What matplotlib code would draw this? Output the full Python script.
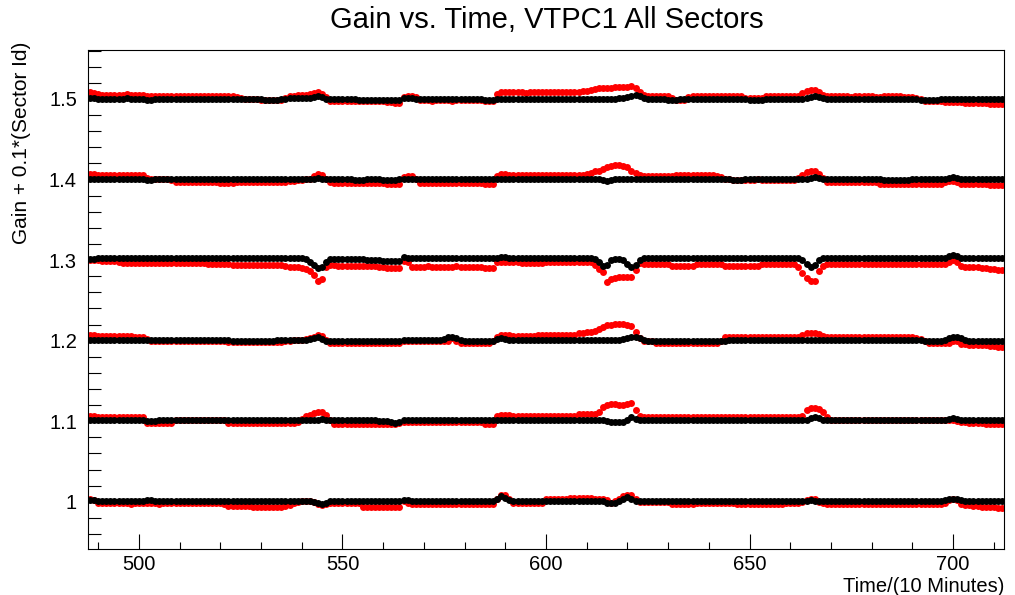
import numpy as np
import matplotlib
matplotlib.use("Agg")
import matplotlib.pyplot as plt
from matplotlib.ticker import MultipleLocator, FuncFormatter

plt.rcParams["font.family"] = ["Liberation Sans", "DejaVu Sans"]

# time axis, one point per 10 minutes
time = np.arange(488, 713)
offsets = [1.0, 1.1, 1.2, 1.3, 1.4, 1.5]

# deviations from 1 + 0.1*sector, in units of 0.001
red_15 = [8, 7, 6, 5, 5, 5, 5, 5, 5, 6, 5, 5, 5, 5, 4, 4, 4, 4, 4, 4, 4, 4, 4, 4, 4,
          4, 4, 4, 4, 4, 4, 4, 4, 4, 4, 4, 2, 1, 0, 0, 0, 0, -1, -1, -1, -1, -1, -1, 1, 3,
          4, 5, 5, 5, 6, 7, 8, 6, 2, -2, -3, -3, -3, -3, -3, -3, -3, -3, -3, -3, -3, -3, -3, -4, -4,
          -5, -5, 2, 3, 3, 2, -1, -1, -1, -2, -1, -1, -1, -1, -2, -1, -1, -1, -1, -1, -1, -1, -2, -3, -3,
          6, 8, 8, 8, 8, 8, 8, 7, 8, 8, 8, 8, 8, 8, 8, 9, 9, 9, 9, 9, 9, 10, 10, 11, 12,
          13, 14, 14, 14, 15, 15, 15, 15, 16, 13, 8, 5, 4, 4, 4, 4, 4, 4, 1, -1, -1, -1, 2, 3, 3,
          3, 3, 3, 3, 3, 3, 3, 3, 3, 3, 3, 1, 1, 1, 1, 1, 3, 3, 3, 3, 3, 3, 3, 3, 4,
          7, 10, 11, 11, 8, 5, 3, 3, 3, 3, 3, 3, 2, 3, 3, 3, 3, 3, 2, 2, 3, 3, 3, 3, 3,
          2, 2, 2, 1, 0, -2, -3, -3, -3, -3, -4, -4, -4, -4, -4, -5, -5, -5, -5, -5, -5, -6, -6, -6, -6]
black_15 = [1, 1, 0, 0, 0, 0, 0, 0, 0, 1, 0, 0, 0, 0, -1, -1, 0, 0, 0, 0, 0, 0, 0, 0, 0,
            0, 0, 0, 0, 0, 0, 0, 0, 0, 0, 0, 0, 0, 0, 0, 0, 0, 0, -1, -1, -1, -1, 0, 0, 1,
            1, 1, 1, 1, 1, 2, 3, 2, 0, 0, 0, 0, 0, 0, 0, 0, -1, -1, -1, -1, -1, -1, -1, -1, -1,
            -1, -1, 1, 1, 1, 0, 0, 0, 0, 0, 0, 0, 0, 0, 0, 0, 0, 0, 0, 0, 0, 0, -1, -1, -1,
            0, 0, 0, 0, 0, 0, 0, 0, 0, 0, 0, 0, 0, 0, 0, 0, 0, 0, 0, 0, 0, 0, 0, 0, 0,
            0, 0, 0, 0, 0, 1, 1, 2, 3, 5, 3, 1, 0, 0, 0, 0, 0, -1, -1, -1, 0, 0, 0, 0, 0,
            0, 0, 0, 0, 0, 0, 0, 0, 0, 0, 0, 0, -1, -1, -1, -1, 0, 0, 0, 0, 0, 0, 0, 0, 0,
            0, 1, 2, 3, 2, 1, 0, 0, 0, 0, 0, 0, 0, 0, 0, 0, 0, 0, 0, 0, 0, 0, 0, 0, 0,
            0, 0, 0, 0, -1, -1, -1, -1, -1, 0, 0, 0, 0, 0, 0, 0, 0, 0, 0, 0, 0, 0, 0, 0, 0]

red_14 = [7, 7, 6, 5, 5, 5, 5, 5, 6, 5, 5, 5, 5, 5, 2, 0, 0, 0, 0, 0, -1, -3, -3, -3, -3,
          -3, -3, -3, -3, -3, -3, -3, -4, -4, -4, -4, -3, -3, -3, -3, -3, -3, -3, -3, -3, -3, -3, -3, -3, -2,
          -2, -1, -1, 0, 1, 4, 7, 5, 0, -3, -4, -4, -4, -4, -4, -4, -4, -4, -4, -4, -4, -4, -4, -5, -5,
          -5, -5, 3, 4, 4, 1, -4, -4, -4, -4, -4, -4, -4, -4, -4, -4, -4, -4, -4, -4, -4, -4, -5, -5, -5,
          4, 7, 7, 5, 5, 5, 5, 5, 5, 5, 5, 5, 5, 5, 5, 5, 5, 5, 5, 5, 6, 6, 7, 8, 10,
          11, 13, 15, 17, 18, 18, 17, 15, 11, 8, 6, 4, 4, 4, 4, 4, 4, 4, 4, 5, 6, 6, 6, 6, 6,
          6, 6, 6, 5, 4, 3, 1, 0, -1, -1, -1, -1, -1, -1, 0, -1, -1, -1, -1, -1, -1, -1, -1, -1, 2,
          5, 9, 10, 10, 7, 2, -3, -3, -3, -3, -3, -3, -3, -3, -3, -3, -3, -3, -3, -5, -5, -5, -5, -5, -5,
          -5, -5, -5, -5, -5, -5, -5, -5, -5, -5, -3, -2, -2, -3, -5, -6, -6, -6, -6, -6, -6, -7, -7, -7, -7]
black_14 = [1, 1, 1, 0, 0, 0, 0, 0, 0, 0, 0, 0, 0, 0, -1, -1, 0, 0, 0, 0, 0, 0, 0, 0, 0,
            0, 0, 0, 0, 0, 0, 0, 0, 0, 0, 0, 0, 0, 0, 0, 0, 0, 0, 0, 0, 0, 0, 0, 0, 0,
            0, 0, 0, 0, 0, 1, 2, 1, 0, 0, 0, 0, 0, 0, 0, -1, -1, -1, 0, 0, 0, 0, -1, -1, -1,
            -1, 0, 1, 1, 0, 0, 0, 0, 0, 0, 0, 0, 0, 0, 0, 0, 0, 0, 0, 0, 0, 0, 0, 0, 0,
            0, 1, 1, 0, 0, 0, 0, 0, 0, 0, 0, 0, 0, 0, 0, 0, 0, 0, 0, 0, 0, 0, 0, 0, 0,
            0, -1, -2, -1, 0, 0, 0, 1, 1, 1, 0, 0, 0, 0, 0, 0, 0, 0, 0, 0, 0, 0, 0, 0, 0,
            0, 0, 0, 0, 0, 0, 0, 0, -1, -1, -1, 0, 0, 0, 0, 0, 0, 0, 0, 0, 0, 0, 0, 0, 0,
            0, 1, 2, 3, 2, 1, 0, 0, 0, 0, 0, 0, 0, 0, 0, 0, 0, 0, 0, 0, -1, -1, -1, -1, -1,
            -1, -1, 0, 0, 0, 0, 0, 0, 0, 0, 1, 2, 3, 2, 1, 0, 0, 0, 0, 0, 0, 0, 0, 0, 0]

red_13 = [0, 0, 0, -1, -1, -1, -1, -2, -4, -4, -4, -4, -4, -4, -4, -4, -4, -4, -4, -4, -4, -4, -4, -4, -4,
          -4, -4, -4, -4, -5, -5, -5, -5, -5, -5, -6, -6, -6, -6, -6, -6, -6, -6, -6, -6, -6, -6, -6, -7, -8,
          -8, -9, -10, -11, -14, -18, -26, -24, -8, -6, -6, -7, -7, -7, -7, -7, -7, -7, -7, -7, -7, -8, -9, -10, -10,
          -10, -10, -1, -3, -8, -8, -8, -8, -7, -8, -8, -8, -8, -8, -8, -7, -8, -8, -8, -8, -8, -8, -10, -10, -10,
          -3, -3, -3, -3, -3, -3, -4, -4, -4, -4, -4, -4, -2, -2, -2, -2, -2, -2, -2, -2, -2, -2, -2, -3, -6,
          -11, -15, -27, -24, -22, -21, -21, -21, -21, -12, -4, -5, -5, -5, -5, -5, -5, -5, -7, -7, -7, -7, -7, -7, -5,
          -5, -5, -5, -5, -5, -5, -7, -7, -7, -7, -7, -7, -7, -7, -7, -5, -5, -5, -5, -5, -5, -5, -5, -5, -8,
          -16, -22, -26, -26, -14, -7, -5, -5, -5, -5, -5, -5, -5, -5, -5, -5, -5, -5, -5, -5, -5, -5, -5, -5, -5,
          -5, -5, -5, -5, -5, -5, -5, -5, -5, -5, -5, -2, 0, -3, -7, -8, -8, -9, -9, -10, -10, -11, -11, -12, -12]
black_13 = [1, 1, 2, 2, 2, 2, 2, 2, 2, 2, 2, 2, 2, 2, 2, 2, 2, 2, 2, 2, 2, 2, 2, 2, 2,
            2, 2, 2, 2, 2, 2, 2, 2, 2, 2, 2, 2, 2, 2, 2, 2, 2, 2, 2, 2, 2, 2, 2, 2, 2,
            2, 3, 3, 1, -2, -6, -10, -9, -3, 1, 1, 1, 1, 1, 1, 1, 1, 1, 0, 0, 0, 0, -1, -1, -1,
            -1, -1, 4, 3, 2, 2, 2, 2, 2, 2, 2, 2, 2, 2, 2, 2, 2, 2, 2, 2, 2, 2, 2, 2, 2,
            3, 4, 4, 3, 2, 2, 2, 2, 2, 2, 2, 2, 2, 2, 2, 2, 2, 2, 2, 2, 2, 2, 2, 3, 1,
            -3, -7, -6, 0, 1, 1, 0, -5, -8, -6, 0, 2, 2, 2, 2, 2, 2, 2, 2, 2, 2, 2, 2, 2, 2,
            2, 2, 2, 2, 2, 2, 2, 2, 2, 2, 2, 2, 2, 2, 2, 2, 2, 2, 2, 2, 2, 2, 2, 2, 2,
            0, -5, -8, -6, 0, 2, 2, 2, 2, 2, 2, 2, 2, 2, 2, 2, 2, 2, 2, 2, 2, 2, 2, 2, 2,
            2, 2, 2, 2, 2, 2, 2, 2, 2, 2, 3, 5, 6, 5, 3, 2, 2, 2, 2, 2, 2, 2, 2, 2, 2]

red_12 = [7, 7, 6, 6, 6, 6, 6, 6, 6, 6, 6, 5, 5, 5, 2, 0, 0, 0, 0, 0, 0, 0, 0, 0, 0,
          0, 0, 0, 0, 0, 0, 0, 0, 0, -2, -2, -2, -2, -2, -2, -2, -2, -2, -2, -2, -2, -2, -2, -1, 0,
          1, 1, 1, 2, 3, 5, 7, 6, 1, -3, -3, -3, -3, -3, -3, -3, -3, -3, -3, -3, -3, -3, -3, -3, -3,
          -3, -3, -1, -1, -1, -1, -1, -1, -1, -1, -1, -1, -1, -1, 3, 0, -3, -3, -3, -3, -3, -3, -3, -3, -1,
          5, 7, 7, 7, 6, 6, 6, 6, 6, 6, 7, 7, 7, 7, 7, 7, 7, 7, 7, 7, 9, 10, 11, 11, 12,
          14, 17, 19, 20, 21, 21, 21, 20, 18, 11, 3, -1, -1, -1, -3, -3, -3, -3, -3, -3, -3, -3, -3, -3, -3,
          -3, -3, -3, -3, -3, 0, 5, 5, 5, 5, 4, 5, 5, 5, 5, 4, 5, 5, 5, 5, 5, 4, 5, 5, 5,
          7, 9, 10, 10, 8, 6, 5, 5, 4, 4, 5, 5, 5, 4, 4, 4, 5, 5, 5, 4, 4, 4, 4, 4, 4,
          4, 4, 4, 3, 2, 0, -3, -3, -3, -3, -3, -3, -1, -1, -4, -4, -5, -5, -6, -6, -6, -7, -7, -8, -8]
black_12 = [1, 1, 1, 1, 1, 1, 1, 1, 1, 1, 1, 1, 1, 1, 1, 1, 1, 1, 1, 1, 1, 1, 1, 1, 1,
            1, 1, 1, 1, 1, 1, 1, 1, 1, 1, 0, 0, 0, 0, 0, 0, 0, 0, 0, 0, 0, 1, 1, 1, 1,
            1, 1, 1, 1, 2, 3, 4, 2, 0, 0, 0, 0, 0, 0, 0, 0, 0, 0, 0, 0, 0, 0, 0, 0, 0,
            0, 0, 1, 1, 1, 1, 1, 1, 1, 1, 1, 1, 2, 4, 5, 3, 1, 0, 0, 0, 0, 0, 0, 0, 0,
            2, 3, 2, 1, 1, 1, 1, 1, 1, 1, 1, 1, 1, 1, 1, 1, 1, 1, 1, 1, 1, 1, 1, 1, 1,
            1, 1, 1, 1, 1, 1, 2, 3, 4, 5, 3, 1, 0, 0, 0, 0, 0, 0, 0, 0, 0, 0, 0, 0, 0,
            0, 0, 0, 0, 0, 0, 0, 1, 1, 1, 1, 1, 1, 1, 1, 1, 1, 1, 1, 1, 1, 1, 1, 1, 1,
            1, 1, 1, 1, 1, 1, 1, 1, 1, 1, 1, 1, 1, 1, 1, 1, 1, 1, 1, 1, 1, 1, 1, 1, 1,
            1, 1, 1, 1, 1, 0, 0, 0, 0, 0, 1, 3, 4, 4, 3, 1, 0, 0, 0, 0, 0, 0, 0, 0, 0]

red_11 = [7, 7, 5, 5, 5, 5, 5, 5, 5, 5, 5, 5, 5, 5, -2, -2, -2, -2, -2, -2, -2, 1, 1, 1, 1,
          1, 1, 1, 1, 1, 1, 1, 1, 1, -2, -2, -2, -2, -2, -2, -2, -2, -2, -2, -2, -2, -2, -2, -2, -2,
          -2, -1, 3, 6, 8, 10, 12, 12, 8, 2, -3, -3, -3, -3, -3, -3, -3, -3, -3, -3, -3, -3, -3, -3, -3,
          -3, -2, -1, -1, -1, -1, -1, -1, -1, -1, -1, -1, -1, -1, -1, -1, -1, -1, -1, -1, -1, -1, -3, -3, -3,
          6, 8, 8, 8, 7, 7, 7, 7, 7, 7, 7, 7, 7, 7, 7, 7, 7, 7, 7, 7, 9, 9, 9, 9, 9,
          12, 18, 20, 21, 21, 20, 20, 21, 22, 14, 7, 5, 5, 5, 5, 5, 5, 5, 5, 5, 5, 5, 5, 5, 5,
          5, 5, 5, 5, 5, 5, 5, 5, 5, 5, 5, 5, 5, 5, 5, 5, 5, 5, 5, 5, 5, 5, 5, 5, 5,
          7, 14, 16, 16, 15, 12, 5, 2, 2, 2, 2, 2, 2, 2, 2, 2, 2, 2, 2, 2, 2, 2, 2, 2, 2,
          2, 2, 2, 2, 2, 2, 2, 2, 2, 2, 2, 1, 2, 0, -1, -1, -2, -2, -2, -2, -3, -3, -3, -3, -3]
black_11 = [2, 2, 1, 1, 1, 1, 1, 1, 1, 1, 1, 1, 1, 1, 0, 0, 0, 1, 1, 1, 1, 1, 1, 1, 1,
            1, 1, 1, 1, 1, 1, 1, 1, 1, 1, 1, 1, 1, 1, 1, 1, 1, 1, 1, 1, 1, 1, 1, 1, 1,
            1, 1, 1, 1, 1, 2, 2, 3, 2, 1, 1, 1, 1, 1, 1, 1, 1, 1, 1, 1, 1, 0, 0, 0, -1,
            -2, -1, 1, 1, 1, 1, 1, 1, 1, 1, 1, 1, 1, 1, 1, 1, 1, 1, 1, 1, 1, 1, 1, 1, 1,
            1, 2, 2, 1, 1, 1, 1, 1, 1, 1, 1, 1, 1, 1, 1, 1, 1, 1, 1, 1, 1, 1, 1, 1, 1,
            1, 1, 0, -1, -1, -1, -1, 2, 5, 3, 1, 1, 1, 1, 1, 1, 1, 1, 1, 1, 1, 1, 1, 1, 1,
            1, 1, 1, 1, 1, 1, 1, 1, 1, 1, 1, 1, 1, 1, 1, 1, 1, 1, 1, 1, 1, 1, 1, 1, 1,
            1, 2, 4, 5, 4, 2, 1, 1, 1, 1, 1, 1, 1, 1, 1, 1, 1, 1, 1, 1, 1, 1, 1, 1, 1,
            1, 1, 1, 1, 1, 1, 1, 1, 1, 1, 2, 3, 4, 3, 2, 1, 1, 1, 1, 1, 1, 1, 1, 1, 1]

red_10 = [3, 2, -2, -2, -2, -2, -2, -2, -2, -2, -3, -2, -2, -2, -2, -2, -2, -3, -2, -2, -2, -2, -2, -2, -2,
          -2, -2, -2, -2, -2, -2, -2, -2, -3, -5, -5, -5, -5, -5, -5, -6, -6, -6, -6, -6, -6, -6, -6, -5, -4,
          -2, 0, 1, 1, 1, 0, -3, -4, -3, -2, -2, -2, -2, -2, -2, -2, -2, -7, -7, -7, -7, -7, -7, -7, -7,
          -7, -6, 1, -2, -3, -3, -3, -3, -3, -3, -3, -3, -3, -3, -3, -3, -3, -3, -3, -3, -3, -3, -3, -3, -3,
          3, 9, 8, 3, -2, -2, -2, -2, -2, -2, -2, -2, 4, 4, 4, 4, 4, 4, 5, 5, 5, 5, 5, 5, 4,
          4, 4, 2, -1, 1, 4, 7, 9, 8, 3, 0, 0, 0, 0, 0, 0, 0, 0, -3, -3, -3, -3, -3, -3, -1,
          -1, -1, -1, -1, -1, -1, -1, -1, -1, -3, -3, -3, -3, -3, -3, -3, -3, -3, -3, -3, -3, -1, -1, -1, -1,
          0, 2, 4, 3, 0, -2, -3, -3, -3, -3, -3, -3, -3, -3, -3, -3, -3, -3, -3, -3, -3, -3, -3, -3, -3,
          -3, -3, -3, -3, -3, -3, -3, -3, -3, -3, -1, 2, 4, 2, -3, -4, -4, -5, -5, -6, -6, -7, -7, -8, -8]
black_10 = [2, 2, 1, 1, 1, 1, 1, 1, 1, 1, 1, 1, 1, 1, 2, 2, 1, 1, 1, 1, 1, 1, 1, 1, 1,
            1, 1, 1, 1, 1, 1, 1, 1, 1, 1, 1, 1, 1, 1, 1, 1, 1, 1, 1, 1, 1, 1, 1, 1, 1,
            1, 1, 1, 1, 1, 0, -2, -3, -1, 1, 1, 1, 1, 1, 1, 1, 1, 1, 1, 1, 1, 1, 1, 1, 1,
            1, 1, 2, 2, 1, 1, 1, 1, 1, 1, 1, 1, 1, 1, 1, 1, 1, 1, 1, 1, 1, 1, 1, 1, 1,
            4, 7, 5, 2, 1, 1, 1, 1, 1, 1, 1, 1, 1, 1, 1, 1, 1, 1, 1, 1, 1, 1, 1, 1, 1,
            1, 1, -1, -1, -1, 1, 3, 6, 4, 1, 1, 1, 1, 1, 1, 1, 1, 1, 1, 1, 1, 1, 1, 1, 1,
            1, 1, 1, 1, 1, 1, 1, 1, 1, 1, 1, 1, 1, 1, 1, 1, 1, 1, 1, 1, 1, 1, 1, 1, 1,
            1, 1, 2, 1, 1, 1, 1, 1, 1, 1, 1, 1, 1, 1, 1, 1, 1, 1, 1, 1, 1, 1, 1, 1, 1,
            1, 1, 1, 1, 1, 1, 1, 1, 1, 1, 2, 3, 4, 3, 2, 1, 1, 1, 1, 1, 1, 1, 1, 1, 1]

red_series = [red_10, red_11, red_12, red_13, red_14, red_15]
black_series = [black_10, black_11, black_12, black_13, black_14, black_15]

fig = plt.figure(figsize=(10.15, 5.95), dpi=100)
ax = fig.add_axes([88 / 1015, 46 / 595, (1004 - 88) / 1015, (549 - 50) / 595])

for off, dev in zip(offsets, red_series):
    ax.plot(time, off + np.array(dev) / 1000.0, "o", color="#ff0000", ms=5.0, mew=0, zorder=2)
for off, dev in zip(offsets, black_series):
    ax.plot(time, off + np.array(dev) / 1000.0, "o", color="black", ms=5.0, mew=0, zorder=3)

ax.set_xlim(487.5, 712.5)
ax.set_ylim(0.9414, 1.5607)

ax.xaxis.set_major_locator(MultipleLocator(50))
ax.xaxis.set_minor_locator(MultipleLocator(10))
ax.yaxis.set_major_locator(MultipleLocator(0.1))
ax.yaxis.set_minor_locator(MultipleLocator(0.02))
ax.yaxis.set_major_formatter(FuncFormatter(lambda v, p: f"{v:g}"))

ax.tick_params(axis="both", which="both", direction="in", top=False, right=False,
               width=0.8, labelsize=14.5)
ax.tick_params(axis="x", which="major", length=10.8, pad=4.5)
ax.tick_params(axis="x", which="minor", length=5.4)
ax.tick_params(axis="y", which="major", length=18, pad=8)
ax.tick_params(axis="y", which="minor", length=9.4)
for s in ax.spines.values():
    s.set_linewidth(0.8)

fig.text(547 / 1015, 1 - 20 / 595, "Gain vs. Time, VTPC1 All Sectors",
         ha="center", va="center", fontsize=21)
fig.text(22 / 1015, 1 - 42 / 595, "Gain + 0.1*(Sector Id)", rotation=90,
         ha="center", va="top", fontsize=15)
fig.text(1004 / 1015, 1 - 577 / 595, "Time/(10 Minutes)",
         ha="right", va="top", fontsize=14.5)

fig.savefig("out.png", dpi=100)
